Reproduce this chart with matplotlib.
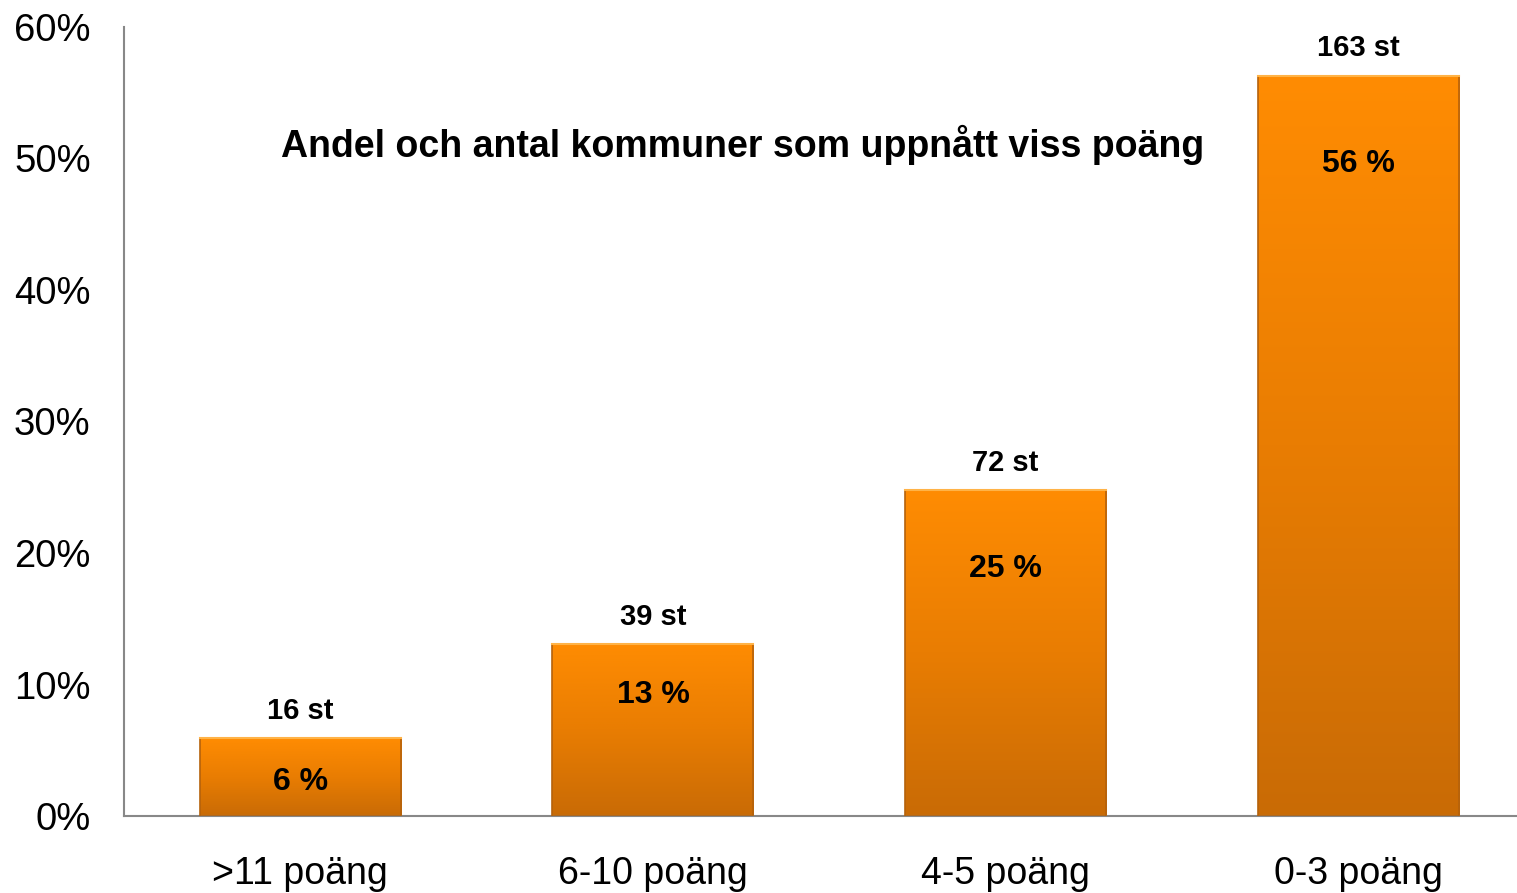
import numpy as np
import matplotlib.pyplot as plt
from matplotlib.colors import LinearSegmentedColormap

categories = [">11 poäng", "6-10 poäng", "4-5 poäng", "0-3 poäng"]
shares = [5.9, 13.1, 24.8, 56.3]          # percent
counts = [16, 39, 72, 163]
share_labels = ["6 %", "13 %", "25 %", "56 %"]
title = "Andel och antal kommuner som uppnått viss poäng"

# where the inner percentage labels sit (percent units)
inner_y = [2.6, 9.2, 18.8, 49.6]

plt.rcParams['font.family'] = ['Liberation Sans', 'DejaVu Sans']

fig = plt.figure(figsize=(15.17, 8.93), dpi=100)
ax = fig.add_axes([0.0817, 0.0862, 0.9183, 0.8836])

cmap = LinearSegmentedColormap.from_list("bar", ["#c96b06", "#e97d02", "#ff8c02"])
grad = np.linspace(0, 1, 256).reshape(-1, 1)
width = 0.57
x = np.arange(len(categories))

bars = ax.bar(x, shares, width=width, color="none", edgecolor="#b5620c", linewidth=1.2, zorder=3)
for b in bars:
    x0, y0 = b.get_x(), b.get_y()
    w, h = b.get_width(), b.get_height()
    im = ax.imshow(grad, extent=[x0, x0 + w, y0, y0 + h], origin="lower",
                   aspect="auto", cmap=cmap, zorder=2)
    im.set_clip_path(b)
    # light top rim
    ax.plot([x0, x0 + w], [y0 + h, y0 + h], color="#ffb347", lw=1.5, zorder=4)

for xi, h, c in zip(x, shares, counts):
    ax.text(xi, h + 1.0, f"{c} st", ha="center", va="bottom", fontsize=21, fontweight="bold")

for xi, yy, s in zip(x, inner_y, share_labels):
    ax.text(xi, yy, s, ha="center", va="center", fontsize=23, fontweight="bold")

ax.text(0.444, 0.85, title, transform=ax.transAxes, ha="center", va="center",
        fontsize=27, fontweight="bold")

ax.set_xlim(-0.5, 3.45)
ax.set_ylim(0, 60)
ax.set_yticks(range(0, 61, 10))
ax.set_yticklabels([f"{v}%" for v in range(0, 61, 10)])
ax.set_xticks(x)
ax.set_xticklabels(categories)
ax.tick_params(axis="y", length=0, pad=24, labelsize=27.5)
ax.tick_params(axis="x", length=0, pad=29, labelsize=27)

for side in ["top", "right"]:
    ax.spines[side].set_visible(False)
for side in ["left", "bottom"]:
    ax.spines[side].set_color("#888888")
    ax.spines[side].set_linewidth(1.5)

fig.savefig("out.png", dpi=100)
